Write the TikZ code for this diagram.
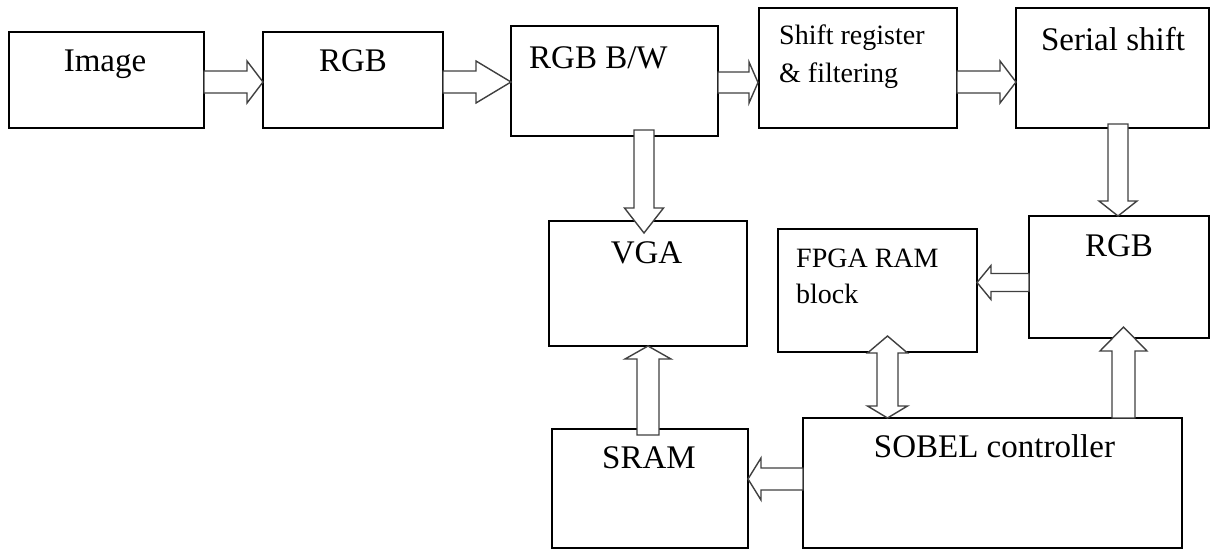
\documentclass[tikz,border=0pt]{standalone}
\usepackage{fontspec}
\setmainfont{Liberation Serif}
\usetikzlibrary{calc}

\tikzset{
  blockbox/.style={draw=black, line width=1.6pt, inner sep=0pt, outer sep=0pt},
  flow/.style={draw=black!75, fill=white, line width=1.4pt},
  lbl/.style={inner sep=0pt, anchor=base, font=\fontsize{33}{40}\selectfont},
  lblsmall/.style={inner sep=0pt, anchor=base west, font=\fontsize{28}{34}\selectfont},
}

% hollow block arrow: tail #1, tip #2, shaft half width #3, head half width #4, head length #5
\newcommand\blockarrow[5]{%
  \coordinate (ba-t) at (#1);
  \coordinate (ba-p) at (#2);
  \coordinate (ba-h) at ($(ba-p)!#5!(ba-t)$);
  \draw[flow] ($(ba-t)!#3!90:(ba-p)$) -- ($(ba-h)!#3!90:(ba-p)$) -- ($(ba-h)!#4!90:(ba-p)$)
    -- (ba-p) -- ($(ba-h)!#4!-90:(ba-p)$) -- ($(ba-h)!#3!-90:(ba-p)$) -- ($(ba-t)!#3!-90:(ba-p)$) -- cycle;
}

% double-headed block arrow: tips #1 and #2, head lengths #5 (at #2) and #6 (at #1)
\newcommand\dblockarrow[6]{%
  \coordinate (da-a) at (#1);
  \coordinate (da-b) at (#2);
  \coordinate (da-hb) at ($(da-b)!#5!(da-a)$);
  \coordinate (da-ha) at ($(da-a)!#6!(da-b)$);
  \draw[flow] (da-a) -- ($(da-ha)!#4!90:(da-b)$) -- ($(da-ha)!#3!90:(da-b)$) -- ($(da-hb)!#3!90:(da-b)$)
    -- ($(da-hb)!#4!90:(da-b)$) -- (da-b) -- ($(da-hb)!#4!-90:(da-b)$) -- ($(da-hb)!#3!-90:(da-b)$)
    -- ($(da-ha)!#3!-90:(da-b)$) -- ($(da-ha)!#4!-90:(da-b)$) -- cycle;
}

\begin{document}
\begin{tikzpicture}[x=1pt, y=-1pt]
\useasboundingbox (0,0) rectangle (1211,550);

% blocks
\node[blockbox, minimum width=195pt, minimum height=96pt]  (img)   at (106.5,80)   {};
\node[blockbox, minimum width=180pt, minimum height=96pt]  (rgb1)  at (353,80)     {};
\node[blockbox, minimum width=207pt, minimum height=110pt] (bw)    at (614.5,81)   {};
\node[blockbox, minimum width=198pt, minimum height=120pt] (shr)   at (858,68)     {};
\node[blockbox, minimum width=193pt, minimum height=120pt] (ser)   at (1112.5,68)  {};
\node[blockbox, minimum width=198pt, minimum height=125pt] (vga)   at (648,283.5)  {};
\node[blockbox, minimum width=199pt, minimum height=123pt] (fpga)  at (877.5,290.5) {};
\node[blockbox, minimum width=180pt, minimum height=122pt] (rgb2)  at (1119,277)   {};
\node[blockbox, minimum width=196pt, minimum height=119pt] (sram)  at (650,488.5)  {};
\node[blockbox, minimum width=379pt, minimum height=130pt] (sobel) at (992.5,483)  {};

% labels
\node[lbl] (t-img)  at (105,71)   {Image};
\node[lbl] (t-rgb1) at (353,71)   {RGB};
\node[lbl, anchor=base west] (t-bw) at (529,68) {RGB B/W};
\node[lblsmall] (t-shr1) at (779,44) {Shift register};
\node[lblsmall] (t-shr2) at (779,82) {\& filtering};
\node[lbl] (t-ser)  at (1113,50)  {Serial shift};
\node[lbl] (t-vga)  at (646.5,263) {VGA};
\node[lblsmall] (t-fpga1) at (796,267) {FPGA RAM};
\node[lblsmall] (t-fpga2) at (796,303) {block};
\node[lbl] (t-rgb2) at (1119,256) {RGB};
\node[lbl] (t-sram) at (649,468)  {SRAM};
\node[lbl] (t-sob)  at (994.5,457) {SOBEL controller};

% data paths
\blockarrow{$(img.east)+(0,2)$}{$(rgb1.west)+(0,2)$}{11pt}{21pt}{16pt}
\blockarrow{$(rgb1.east)+(0,2)$}{$(bw.west)+(0,1)$}{11pt}{21pt}{35pt}
\blockarrow{$(bw.east)+(0,1.5)$}{$(shr.west)+(-1,14.5)$}{10.5pt}{20.5pt}{9pt}
\blockarrow{$(shr.east)+(0,14)$}{$(ser.west)+(0,14)$}{11pt}{21pt}{16pt}
\blockarrow{$(bw.south)+(29.5,-6)$}{$(vga.north)+(-4,12)$}{10pt}{19.5pt}{25pt}
\blockarrow{$(sram.north)+(-2,6)$}{$(vga.south)+(0,0)$}{11pt}{23pt}{13pt}
\blockarrow{$(ser.south)+(5.5,-4)$}{$(rgb2.north)+(-1,0)$}{10pt}{19pt}{15pt}
\blockarrow{$(rgb2.west)+(0,5.5)$}{$(fpga.east)+(0,-8)$}{9pt}{17pt}{14pt}
\dblockarrow{$(fpga.south)+(10,-16)$}{$(sobel.north)+(-105,0)$}{10.5pt}{20pt}{12pt}{17pt}
\blockarrow{$(sobel.north)+(131,0)$}{$(rgb2.south)+(4.5,-11)$}{11.5pt}{23.5pt}{24pt}
\blockarrow{$(sobel.west)+(0,-4)$}{$(sram.east)+(0,-9.5)$}{11pt}{21pt}{13pt}
\end{tikzpicture}
\end{document}
